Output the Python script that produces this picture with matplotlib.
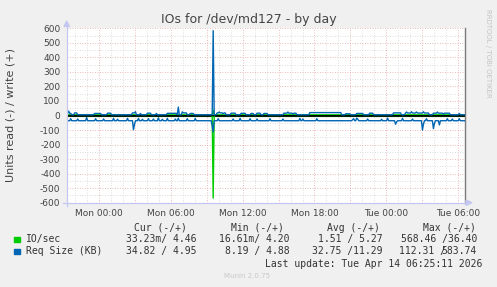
import numpy as np
import matplotlib
matplotlib.use("Agg")
import matplotlib.pyplot as plt
from matplotlib.lines import Line2D
from matplotlib.patches import Polygon, Rectangle

W, H = 497, 287

# time axis: hours relative to Mon 00:00, 5 minute steps (400 px day graph)
t_start = -2.72
n_steps = 400
t = t_start + np.arange(n_steps) * 5 / 60.0

# IO/sec (green)
io_read_base = 0.033
io_write_base = 4.46
io_read_spikes = [(9.55, 568.46)]
io_write_spikes = [(9.55, 36.40)]

# Req Size (KB) (blue), read side drawn negative
req_read_base = 36.0
req_read_spikes = [
    (-2.38, 22), (-1.83, 24), (-1.05, 14), (-0.30, 22), (0.39, 24), (1.17, 20),
    (1.50, 26), (2.33, 20), (2.89, 98), (2.97, 62), (3.31, 20), (3.58, 26),
    (4.14, 22), (4.56, 24), (4.98, 16), (5.25, 26), (5.67, 20), (6.37, 24),
    (6.64, 18), (7.33, 22), (8.03, 20), (9.47, 70), (9.55, 112.31), (9.97, 22),
    (11.23, 24), (11.78, 20), (12.62, 22), (13.17, 24), (14.28, 22), (15.39, 24),
    (16.78, 20), (17.06, 24), (18.17, 22), (21.20, 28), (21.30, 22), (21.50, 18),
    (21.64, 24), (22.48, 24), (23.58, 26), (24.14, 18), (24.75, 60), (24.83, 45),
    (25.39, 20), (26.23, 24), (27.00, 100), (27.08, 60), (27.33, 22), (27.98, 90),
    (28.06, 55), (28.45, 65), (29.14, 22), (29.56, 24), (30.12, 22),
]
req_write_base = 5.0
req_write_spans = [
    (-2.70, -2.35, 15), (-2.10, -1.85, 18), (-0.45, 0.15, 14), (0.65, 1.00, 16),
    (2.70, 3.05, 18), (4.00, 4.30, 16), (5.65, 6.45, 15), (6.90, 7.30, 18),
    (7.60, 7.90, 14), (9.80, 10.60, 18), (11.00, 11.40, 16), (11.80, 12.20, 15),
    (12.65, 12.90, 14), (13.15, 13.50, 16), (13.70, 14.10, 14), (15.40, 16.50, 16),
    (17.60, 20.20, 20), (20.60, 21.00, 12), (21.50, 22.05, 14), (22.60, 22.90, 16),
    (24.60, 25.20, 18), (25.60, 27.60, 17), (27.90, 29.30, 16),
]
req_write_spikes = [
    (-2.55, 30), (3.0, 26), (3.42, 14), (4.80, 14), (6.64, 58), (6.95, 25),
    (9.55, 583.74), (10.0, 24), (10.4, 12), (15.8, 24), (16.2, 10), (25.70, 24),
    (26.10, 26), (26.50, 24), (27.10, 26), (28.3, 24), (28.8, 10), (30.15, 14),
]

xtick_hours = [0, 3, 6, 9, 12, 15, 18, 21, 24, 27, 30]
xtick_labels = ["Mon 00:00", "", "Mon 06:00", "", "Mon 12:00", "", "Mon 18:00", "",
                "Tue 00:00", "", "Tue 06:00"]
ytick_values = list(range(-600, 601, 100))

legend_names = ["IO/sec", "Req Size (KB)"]
legend_colors = ["#00cc00", "#0066b3"]
cur_vals = ["33.23m/ 4.46", "34.82 / 4.95"]
min_vals = ["16.61m/ 4.20", "8.19 / 4.88"]
avg_vals = ["1.51 / 5.27", "32.75 /11.29"]
max_vals = ["568.46 /36.40", "112.31 /583.74"]


def build(base, spikes=(), spans=()):
    vals = np.full(n_steps, float(base))
    for a, b, v in spans:
        vals[(t >= a) & (t <= b)] = v
    for h, v in spikes:
        vals[np.argmin(np.abs(t - h))] = v
    return vals


def fx(x):
    return x / W


def fy(y):
    return 1 - y / H


fig = plt.figure(figsize=(W / 100, H / 100), dpi=100, facecolor="#f0f0f0")
left, right, top, bottom = 66.7, 465.3, 28.3, 202.7
ax = fig.add_axes([fx(left), fy(bottom), (right - left) / W, (bottom - top) / H])
ax.set_facecolor("white")
ax.set_xlim(t_start, t_start + n_steps / 12.0)
ax.set_ylim(-600, 600)

# grid
dot = (0, (1, 2))
for h in np.arange(-2, 31, 1):
    if h % 3 != 0:
        ax.axvline(h, color="#d4d4d4", lw=0.6, ls=dot, zorder=0)
for h in xtick_hours:
    ax.axvline(h, color="#e6a0a0", lw=0.6, ls=dot, zorder=0)
for v in range(-550, 600, 100):
    ax.axhline(v, color="#d4d4d4", lw=0.6, ls=dot, zorder=0)
for v in ytick_values:
    ax.axhline(v, color="#e6a0a0", lw=0.6, ls=dot, zorder=0)

# data
ax.axhline(0, color="black", lw=0.8, zorder=1)
ax.plot(t, -build(io_read_base, io_read_spikes), color=legend_colors[0], lw=1.0, zorder=2)
ax.plot(t, build(io_write_base, io_write_spikes), color=legend_colors[0], lw=1.0, zorder=2)
ax.plot(t, -build(req_read_base, req_read_spikes), color=legend_colors[1], lw=1.0, zorder=4)
ax.plot(t, build(req_write_base, req_write_spikes, req_write_spans), color=legend_colors[1],
        lw=1.0, zorder=4)
ax.axhline(1.2, color="black", lw=0.7, zorder=3)

for s in ["top", "left", "bottom"]:
    ax.spines[s].set_visible(False)
ax.spines["right"].set_color("#7a7a7a")
ax.spines["right"].set_linewidth(1.0)

ax.set_xticks(xtick_hours)
ax.set_xticklabels(xtick_labels)
ax.set_yticks(ytick_values)
ax.set_yticklabels([str(v) for v in ytick_values])
ax.tick_params(length=0, labelsize=6.5, colors="#444444")
ax.tick_params(axis="x", pad=4.5)
ax.tick_params(axis="y", pad=4.5)

# axis lines with arrows
axis_col = "#c4c8f0"
fig.add_artist(Line2D([fx(left), fx(left)], [fy(206), fy(24)], color=axis_col, lw=0.9))
fig.add_artist(Line2D([fx(63), fx(468)], [fy(bottom), fy(bottom)], color=axis_col, lw=0.9))
fig.add_artist(Polygon([(fx(64), fy(26.5)), (fx(69.4), fy(26.5)), (fx(66.7), fy(21))],
                       closed=True, color=axis_col, transform=fig.transFigure))
fig.add_artist(Polygon([(fx(466), fy(200)), (fx(466), fy(205.4)), (fx(472), fy(bottom))],
                       closed=True, color=axis_col, transform=fig.transFigure))

# texts
fig.text(fx(248.5), fy(19), "IOs for /dev/md127 - by day", ha="center", va="center",
         fontsize=9, color="#444444")
fig.text(fx(11), fy(115.5), "Units read (-) / write (+)", rotation=90, ha="center",
         va="center", fontsize=8, color="#444444")
fig.text(fx(488), fy(53), "RRDTOOL / TOBI OETIKER", rotation=-90, ha="center", va="center",
         fontsize=5, color="#c4c4c4")
fig.text(fx(247), fy(276), "Munin 2.0.75", ha="center", va="center", fontsize=5,
         color="#c8c8c8")

mono = dict(family="DejaVu Sans Mono", fontsize=7, color="#333333", va="center")
fig.text(fx(134), fy(228), "Cur (-/+)", **mono)
fig.text(fx(230.7), fy(228), "Min (-/+)", **mono)
fig.text(fx(327), fy(228), "Avg (-/+)", **mono)
fig.text(fx(423), fy(228), "Max (-/+)", **mono)

row_y = [239.3, 251.3]
for i in range(2):
    y = row_y[i]
    fig.add_artist(Rectangle((fx(14), fy(y + 2.8)), 5.5 / W, 5.5 / H, color=legend_colors[i],
                             transform=fig.transFigure))
    fig.text(fx(26.3), fy(y), legend_names[i], **mono)
    fig.text(fx(196), fy(y), cur_vals[i], ha="right", **mono)
    fig.text(fx(289.5), fy(y), min_vals[i], ha="right", **mono)
    fig.text(fx(383), fy(y), avg_vals[i], ha="right", **mono)
    mx = max_vals[i]
    if len(mx) > 13:
        # the reference squeezes this value so the slash sits on the first digit
        head, tail = mx.split("/")
        fig.text(fx(399), fy(y), head + "/", **mono)
        fig.text(fx(477), fy(y), tail, ha="right", **mono)
    else:
        fig.text(fx(477), fy(y), mx, ha="right", **mono)

fig.text(fx(482), fy(263.7), "Last update: Tue Apr 14 06:25:11 2026", ha="right", **mono)

fig.savefig("out.png", dpi=100, facecolor=fig.get_facecolor())
